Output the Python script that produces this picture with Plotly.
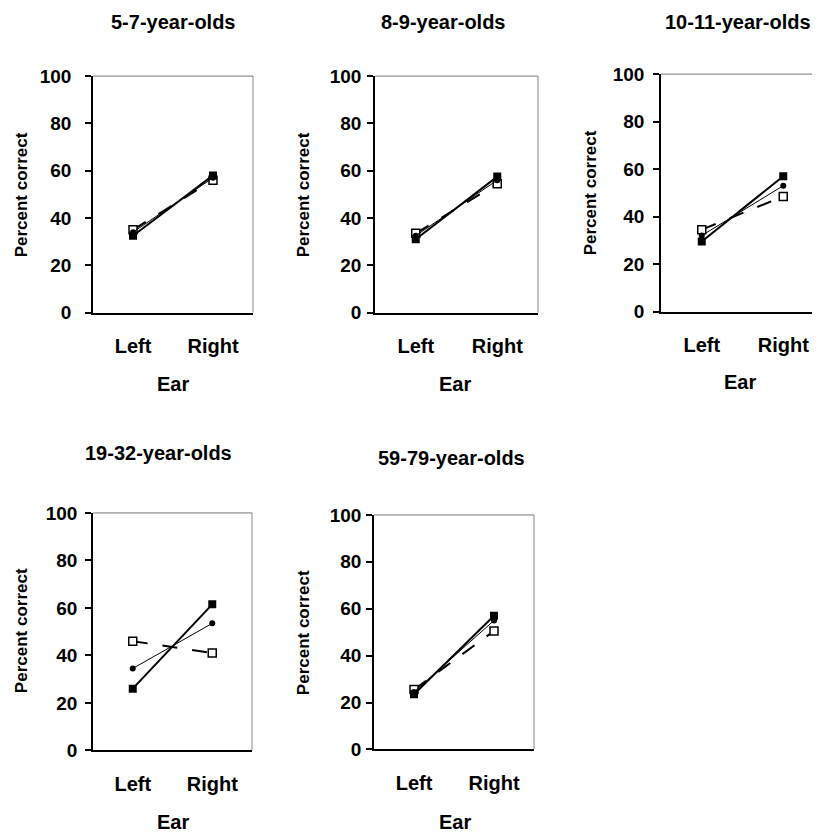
import plotly.graph_objects as go

W, H = 820, 835

categories = ["Left", "Right"]
panel_titles = ["5-7-year-olds", "8-9-year-olds", "10-11-year-olds",
                "19-32-year-olds", "59-79-year-olds"]
y_ticks = [0, 20, 40, 60, 80, 100]

# series values per panel (Left ear, Right ear)
filled_square = [[32.5, 58.0], [31.0, 57.5], [29.5, 57.0], [26.0, 61.5], [23.5, 57.0]]
filled_circle = [[34.0, 57.0], [32.5, 56.0], [32.0, 53.0], [34.5, 53.5], [24.5, 55.0]]
open_square = [[35.0, 56.0], [33.5, 54.5], [34.5, 48.5], [46.0, 41.0], [25.5, 50.5]]

# panel geometry in target pixels: (left, right, top, bottom)
boxes = [(90, 250, 76, 312), (372, 535, 76, 312), (658, 821, 74, 311),
         (90, 249, 512, 749), (371, 531, 514, 748)]
title_pos = [(170, 22), (440, 22), (735, 22), (155, 452), (448, 457)]
ytitle_pos = [(18, 195), (300, 195), (587, 193), (18, 630), (300, 632)]
xtitle_pos = [(170, 383), (452, 383), (737, 381), (170, 820), (452, 820)]
ylab_standoff = [10, 2, 5, 4, 1]

FONT = "Arial, Liberation Sans, sans-serif"

# observed placement offset of the rendered page
DX, DY, SY = 5.0, 18.0, 0.973

def px(x):
    return (x - DX) / W

def py(y):
    return 1 - ((y - DY) / SY) / H

fig = go.Figure()
annotations = []
shapes = []
layout = {}

for i in range(5):
    n = "" if i == 0 else str(i + 1)
    xa, ya = "x" + n, "y" + n
    l, r, t, b = boxes[i]
    layout["xaxis" + n] = dict(
        domain=[max(px(l), 0.0), min(px(r), 1.0)], anchor=ya, type="category",
        range=[-0.5, 1.5], showline=True, linecolor="black", linewidth=1.5,
        ticks="", showgrid=False, zeroline=False, ticklabelstandoff=15,
        tickfont=dict(family=FONT, size=20, color="black", weight="bold"),
    )
    layout["yaxis" + n] = dict(
        domain=[py(b), min(py(t), 1.0)], anchor=xa, range=[0, 100], tickvals=y_ticks,
        showline=True, linecolor="black", linewidth=1.5, ticks="outside",
        ticklen=6, tickwidth=1.5, tickcolor="black", showgrid=False,
        zeroline=False, ticklabelstandoff=ylab_standoff[i],
        tickfont=dict(family=FONT, size=19, color="black", weight="bold"),
    )
    # grey top / right frame
    shapes.append(dict(type="line", xref=xa + " domain", yref=ya + " domain",
                       x0=0, x1=1, y0=1, y1=1, line=dict(color="#777", width=1)))
    shapes.append(dict(type="line", xref=xa + " domain", yref=ya + " domain",
                       x0=1, x1=1, y0=0, y1=1, line=dict(color="#888", width=1)))

    fig.add_trace(go.Scatter(
        x=categories, y=open_square[i], xaxis=xa, yaxis=ya, mode="lines+markers",
        line=dict(color="black", width=2, dash="longdash"),
        marker=dict(symbol="square", size=8, color="white",
                    line=dict(color="black", width=1.5)),
        name="Open squares", showlegend=False))
    fig.add_trace(go.Scatter(
        x=categories, y=filled_circle[i], xaxis=xa, yaxis=ya, mode="lines+markers",
        line=dict(color="black", width=1),
        marker=dict(symbol="circle", size=6, color="black"),
        name="Filled circles", showlegend=False))
    fig.add_trace(go.Scatter(
        x=categories, y=filled_square[i], xaxis=xa, yaxis=ya, mode="lines+markers",
        line=dict(color="black", width=2),
        marker=dict(symbol="square", size=8, color="black"),
        name="Filled squares", showlegend=False))

    tx, ty = title_pos[i]
    annotations.append(dict(text=panel_titles[i], x=px(tx), y=py(ty), xref="paper",
                            yref="paper", showarrow=False, xanchor="center",
                            yanchor="middle",
                            font=dict(family=FONT, size=20, color="black", weight="bold")))
    yx, yy = ytitle_pos[i]
    annotations.append(dict(text="Percent correct", x=px(yx), y=py(yy), xref="paper",
                            yref="paper", showarrow=False, textangle=-90,
                            xanchor="center", yanchor="middle",
                            font=dict(family=FONT, size=17, color="black", weight="bold")))
    ex, ey = xtitle_pos[i]
    annotations.append(dict(text="Ear", x=px(ex), y=py(ey), xref="paper",
                            yref="paper", showarrow=False, xanchor="center",
                            yanchor="middle",
                            font=dict(family=FONT, size=20, color="black", weight="bold")))

fig.update_layout(width=W, height=H, margin=dict(l=0, r=0, t=0, b=0),
                  paper_bgcolor="white", plot_bgcolor="white",
                  annotations=annotations, shapes=shapes, showlegend=False,
                  **layout)

fig.write_html("out.html")
